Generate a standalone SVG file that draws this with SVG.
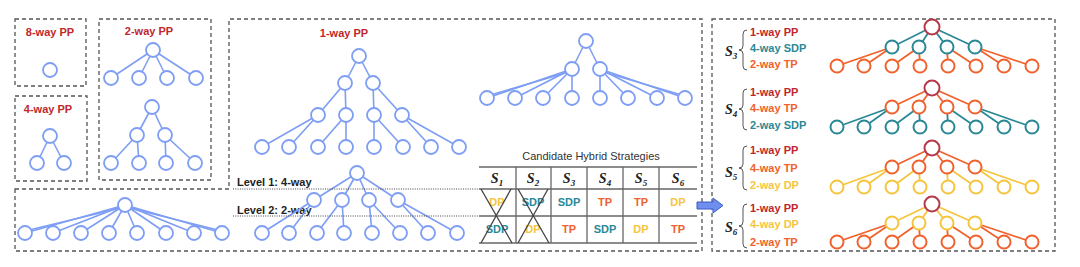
<svg xmlns="http://www.w3.org/2000/svg" width="1080" height="267" viewBox="0 0 1080 267">
<style>
.box{fill:none;stroke:#555;stroke-width:1.3;stroke-dasharray:4 3}
.bn{fill:#fff;stroke:#7e9ef4;stroke-width:1.8}
.be line{stroke:#7e9ef4;stroke-width:1.6}
.t{font-family:"Liberation Sans",Arial,sans-serif;font-weight:bold;font-size:11px}
.n{font-family:"Liberation Sans",Arial,sans-serif;font-size:11px;fill:#333}
.s{font-family:"Liberation Serif","Times New Roman",serif;font-weight:bold;font-style:italic;font-size:14px;fill:#222}
.pp{fill:#c0272d}.sdp{fill:#2a8896}.tp{fill:#f0622d}.dp{fill:#f5c53d}
.cr{fill:#fff;stroke:#b5394a;stroke-width:2}
.cs{fill:#fff;stroke:#2a8896;stroke-width:2}
.ct{fill:#fff;stroke:#f0622d;stroke-width:2}
.cd{fill:#fff;stroke:#f5c53d;stroke-width:2}
.es line{stroke:#2a8896;stroke-width:1.8}
.et line{stroke:#f0622d;stroke-width:1.8}
.ed line{stroke:#f5c53d;stroke-width:1.8}
.tl{stroke:#666;stroke-width:1.3}
.dot{stroke:#444;stroke-width:1;stroke-dasharray:1 1.3}
.br{fill:none;stroke:#555;stroke-width:1}
</style>

<g id="frames">
<rect class="box" x="15" y="19" width="71" height="67"/>
<rect class="box" x="15" y="96" width="72" height="85"/>
<rect class="box" x="99" y="19" width="112" height="161"/>
<path class="box" d="M15,189 H229 V19 H702 V251 H15 Z"/>
<rect class="box" x="712" y="19" width="343" height="232"/>
</g>

<g id="titles" class="t">
<text class="pp" x="50" y="36" text-anchor="middle">8-way PP</text>
<text class="pp" x="48" y="113" text-anchor="middle">4-way PP</text>
<text class="pp" x="149" y="35" text-anchor="middle">2-way PP</text>
<text class="pp" x="344" y="37" text-anchor="middle">1-way PP</text>
<text x="237" y="186" fill="#222">Level 1: 4-way</text>
<text x="237" y="214" fill="#222">Level 2: 2-way</text>
</g>

<g id="connectors">
<g class="be">
<line x1="50" y1="136" x2="37" y2="163"/><line x1="50" y1="136" x2="64" y2="163"/>
<line x1="153" y1="50" x2="111" y2="78"/><line x1="153" y1="50" x2="139" y2="78"/><line x1="153" y1="50" x2="167" y2="78"/><line x1="153" y1="50" x2="196" y2="78"/>
<line x1="152" y1="107" x2="137" y2="135"/><line x1="152" y1="107" x2="165" y2="135"/>
<line x1="137" y1="135" x2="111" y2="163"/><line x1="137" y1="135" x2="139" y2="163"/><line x1="165" y1="135" x2="166" y2="163"/><line x1="165" y1="135" x2="195" y2="163"/>
<line x1="125" y1="205" x2="25" y2="233"/><line x1="125" y1="207" x2="25" y2="231"/>
<line x1="125" y1="205" x2="53" y2="233"/><line x1="125" y1="205" x2="81" y2="233"/><line x1="125" y1="205" x2="109" y2="233"/><line x1="125" y1="205" x2="137" y2="233"/><line x1="125" y1="205" x2="166" y2="233"/><line x1="125" y1="205" x2="194" y2="233"/>
<line x1="125" y1="205" x2="222" y2="233"/><line x1="125" y1="207" x2="222" y2="231"/>
<line x1="359" y1="56" x2="345" y2="83"/><line x1="359" y1="56" x2="373" y2="83"/>
<line x1="345" y1="83" x2="318" y2="115"/><line x1="345" y1="83" x2="346" y2="115"/><line x1="373" y1="83" x2="374" y2="115"/><line x1="373" y1="83" x2="402" y2="115"/>
<line x1="318" y1="115" x2="262" y2="147"/><line x1="318" y1="115" x2="289" y2="147"/><line x1="346" y1="115" x2="318" y2="147"/><line x1="346" y1="115" x2="346" y2="147"/>
<line x1="374" y1="115" x2="374" y2="147"/><line x1="374" y1="115" x2="403" y2="147"/><line x1="402" y1="115" x2="431" y2="147"/><line x1="402" y1="115" x2="459" y2="147"/>
<line x1="586" y1="41" x2="572" y2="69"/><line x1="586" y1="41" x2="600" y2="69"/>
<line x1="572" y1="69" x2="487" y2="98"/><line x1="572" y1="71" x2="487" y2="96"/><line x1="572" y1="69" x2="515" y2="98"/><line x1="572" y1="69" x2="543" y2="98"/><line x1="572" y1="69" x2="572" y2="98"/>
<line x1="600" y1="69" x2="600" y2="98"/><line x1="600" y1="69" x2="628" y2="98"/><line x1="600" y1="69" x2="657" y2="98"/><line x1="600" y1="69" x2="685" y2="98"/><line x1="600" y1="71" x2="685" y2="96"/>
<line x1="357" y1="173" x2="314" y2="200"/><line x1="357" y1="173" x2="342" y2="200"/><line x1="357" y1="173" x2="369" y2="200"/><line x1="357" y1="173" x2="398" y2="200"/>
<line x1="314" y1="200" x2="262" y2="233"/><line x1="314" y1="200" x2="289" y2="233"/><line x1="342" y1="200" x2="317" y2="233"/><line x1="342" y1="200" x2="344" y2="233"/>
<line x1="369" y1="200" x2="372" y2="233"/><line x1="369" y1="200" x2="400" y2="233"/><line x1="398" y1="200" x2="428" y2="233"/><line x1="398" y1="200" x2="457" y2="233"/>
</g>
<g class="es"><line x1="932" y1="27" x2="892" y2="47"/><line x1="932" y1="27" x2="919" y2="47"/><line x1="932" y1="27" x2="947" y2="47"/><line x1="932" y1="27" x2="975" y2="47"/></g>
<g class="et"><line x1="892" y1="47" x2="837" y2="66"/><line x1="892" y1="47" x2="864" y2="66"/><line x1="919" y1="47" x2="892" y2="66"/><line x1="919" y1="47" x2="920" y2="66"/><line x1="947" y1="47" x2="948" y2="66"/><line x1="947" y1="47" x2="976" y2="66"/><line x1="975" y1="47" x2="1004" y2="66"/><line x1="975" y1="47" x2="1032" y2="66"/></g>
<g class="et"><line x1="932" y1="88" x2="892" y2="107"/><line x1="932" y1="88" x2="919" y2="107"/><line x1="932" y1="88" x2="947" y2="107"/><line x1="932" y1="88" x2="975" y2="107"/></g>
<g class="es"><line x1="892" y1="107" x2="837" y2="127"/><line x1="892" y1="107" x2="864" y2="127"/><line x1="919" y1="107" x2="892" y2="127"/><line x1="919" y1="107" x2="920" y2="127"/><line x1="947" y1="107" x2="948" y2="127"/><line x1="947" y1="107" x2="976" y2="127"/><line x1="975" y1="107" x2="1004" y2="127"/><line x1="975" y1="107" x2="1032" y2="127"/></g>
<g class="et"><line x1="932" y1="148" x2="892" y2="167"/><line x1="932" y1="148" x2="919" y2="167"/><line x1="932" y1="148" x2="947" y2="167"/><line x1="932" y1="148" x2="975" y2="167"/></g>
<g class="ed"><line x1="892" y1="167" x2="837" y2="187"/><line x1="892" y1="167" x2="864" y2="187"/><line x1="919" y1="167" x2="892" y2="187"/><line x1="919" y1="167" x2="920" y2="187"/><line x1="947" y1="167" x2="948" y2="187"/><line x1="947" y1="167" x2="976" y2="187"/><line x1="975" y1="167" x2="1004" y2="187"/><line x1="975" y1="167" x2="1032" y2="187"/></g>
<g class="ed"><line x1="932" y1="204" x2="892" y2="223"/><line x1="932" y1="204" x2="919" y2="223"/><line x1="932" y1="204" x2="947" y2="223"/><line x1="932" y1="204" x2="975" y2="223"/></g>
<g class="et"><line x1="892" y1="223" x2="837" y2="242"/><line x1="892" y1="223" x2="864" y2="242"/><line x1="919" y1="223" x2="892" y2="242"/><line x1="919" y1="223" x2="920" y2="242"/><line x1="947" y1="223" x2="948" y2="242"/><line x1="947" y1="223" x2="976" y2="242"/><line x1="975" y1="223" x2="1004" y2="242"/><line x1="975" y1="223" x2="1032" y2="242"/></g>
<line class="dot" x1="233" y1="189" x2="479" y2="189"/>
<line class="dot" x1="233" y1="216" x2="479" y2="216"/>
<polygon points="697,202 713,202 713,198 723,205.5 713,213 713,209 697,209" fill="#6f8ff0" stroke="#3b5bc4" stroke-width="1"/>
</g>

<g id="tree-8way"><circle class="bn" cx="50" cy="70" r="7"/></g>
<g id="tree-4way"><circle class="bn" cx="50" cy="136" r="7"/><circle class="bn" cx="37" cy="163" r="7"/><circle class="bn" cx="64" cy="163" r="7"/></g>
<g id="tree-2way-a"><circle class="bn" cx="153" cy="50" r="7"/><circle class="bn" cx="111" cy="78" r="7"/><circle class="bn" cx="139" cy="78" r="7"/><circle class="bn" cx="167" cy="78" r="7"/><circle class="bn" cx="196" cy="78" r="7"/></g>
<g id="tree-2way-b"><circle class="bn" cx="152" cy="107" r="7"/><circle class="bn" cx="137" cy="135" r="7"/><circle class="bn" cx="165" cy="135" r="7"/><circle class="bn" cx="111" cy="163" r="7"/><circle class="bn" cx="139" cy="163" r="7"/><circle class="bn" cx="166" cy="163" r="7"/><circle class="bn" cx="195" cy="163" r="7"/></g>
<g id="tree-flat"><circle class="bn" cx="125" cy="205" r="7"/><circle class="bn" cx="25" cy="233" r="7"/><circle class="bn" cx="53" cy="233" r="7"/><circle class="bn" cx="81" cy="233" r="7"/><circle class="bn" cx="109" cy="233" r="7"/><circle class="bn" cx="137" cy="233" r="7"/><circle class="bn" cx="166" cy="233" r="7"/><circle class="bn" cx="194" cy="233" r="7"/><circle class="bn" cx="222" cy="233" r="7"/></g>
<g id="tree-1way"><circle class="bn" cx="359" cy="56" r="7"/><circle class="bn" cx="345" cy="83" r="7"/><circle class="bn" cx="373" cy="83" r="7"/><circle class="bn" cx="318" cy="115" r="7"/><circle class="bn" cx="346" cy="115" r="7"/><circle class="bn" cx="374" cy="115" r="7"/><circle class="bn" cx="402" cy="115" r="7"/><circle class="bn" cx="262" cy="147" r="7"/><circle class="bn" cx="289" cy="147" r="7"/><circle class="bn" cx="318" cy="147" r="7"/><circle class="bn" cx="346" cy="147" r="7"/><circle class="bn" cx="374" cy="147" r="7"/><circle class="bn" cx="403" cy="147" r="7"/><circle class="bn" cx="431" cy="147" r="7"/><circle class="bn" cx="459" cy="147" r="7"/></g>
<g id="tree-2level"><circle class="bn" cx="586" cy="41" r="7"/><circle class="bn" cx="572" cy="69" r="7"/><circle class="bn" cx="600" cy="69" r="7"/><circle class="bn" cx="487" cy="98" r="7"/><circle class="bn" cx="515" cy="98" r="7"/><circle class="bn" cx="543" cy="98" r="7"/><circle class="bn" cx="572" cy="98" r="7"/><circle class="bn" cx="600" cy="98" r="7"/><circle class="bn" cx="628" cy="98" r="7"/><circle class="bn" cx="657" cy="98" r="7"/><circle class="bn" cx="685" cy="98" r="7"/></g>
<g id="tree-levels"><circle class="bn" cx="357" cy="173" r="7"/><circle class="bn" cx="314" cy="200" r="7"/><circle class="bn" cx="342" cy="200" r="7"/><circle class="bn" cx="369" cy="200" r="7"/><circle class="bn" cx="398" cy="200" r="7"/><circle class="bn" cx="262" cy="233" r="7"/><circle class="bn" cx="289" cy="233" r="7"/><circle class="bn" cx="317" cy="233" r="7"/><circle class="bn" cx="344" cy="233" r="7"/><circle class="bn" cx="372" cy="233" r="7"/><circle class="bn" cx="400" cy="233" r="7"/><circle class="bn" cx="428" cy="233" r="7"/><circle class="bn" cx="457" cy="233" r="7"/></g>

<g id="table">
<text class="n" x="591" y="160" text-anchor="middle">Candidate Hybrid Strategies</text>
<line class="tl" x1="479" y1="167" x2="697" y2="167"/>
<line class="tl" x1="479" y1="189" x2="697" y2="189"/>
<line class="tl" x1="479" y1="216" x2="697" y2="216"/>
<line class="tl" x1="479" y1="243" x2="697" y2="243"/>
<line class="tl" x1="516" y1="167" x2="516" y2="243"/>
<line class="tl" x1="551" y1="167" x2="551" y2="243"/>
<line class="tl" x1="587" y1="167" x2="587" y2="243"/>
<line class="tl" x1="623" y1="167" x2="623" y2="243"/>
<line class="tl" x1="659" y1="167" x2="659" y2="243"/>
<g class="s" text-anchor="middle">
<text x="497" y="183">S<tspan font-size="9" dy="3">1</tspan></text>
<text x="533" y="183">S<tspan font-size="9" dy="3">2</tspan></text>
<text x="569" y="183">S<tspan font-size="9" dy="3">3</tspan></text>
<text x="605" y="183">S<tspan font-size="9" dy="3">4</tspan></text>
<text x="641" y="183">S<tspan font-size="9" dy="3">5</tspan></text>
<text x="678" y="183">S<tspan font-size="9" dy="3">6</tspan></text>
</g>
<g class="t" text-anchor="middle">
<text class="dp" x="497" y="206">DP</text>
<text class="sdp" x="533" y="206">SDP</text>
<text class="sdp" x="569" y="206">SDP</text>
<text class="tp" x="605" y="206">TP</text>
<text class="tp" x="641" y="206">TP</text>
<text class="dp" x="678" y="206">DP</text>
<text class="sdp" x="497" y="233">SDP</text>
<text class="dp" x="533" y="233">DP</text>
<text class="tp" x="569" y="233">TP</text>
<text class="sdp" x="605" y="233">SDP</text>
<text class="dp" x="641" y="233">DP</text>
<text class="tp" x="678" y="233">TP</text>
</g>
<g stroke="#444" stroke-width="1.3">
<line x1="481" y1="189" x2="512" y2="243"/><line x1="511" y1="189" x2="481" y2="243"/>
<line x1="518" y1="189" x2="549" y2="243"/><line x1="548" y1="189" x2="518" y2="243"/>
</g>
</g>

<g id="legend-s3">
<text class="s" x="725" y="56">S<tspan font-size="9" dy="3">3</tspan></text>
<path class="br" d="M747,30 Q743,30 743,34 V46 Q743,50 739,50 Q743,50 743,54 V66 Q743,70 747,70"/>
<text class="t pp" x="750" y="36">1-way PP</text>
<text class="t sdp" x="750" y="52">4-way SDP</text>
<text class="t tp" x="750" y="68">2-way TP</text>
</g>
<g id="legend-s4">
<text class="s" x="725" y="114">S<tspan font-size="9" dy="3">4</tspan></text>
<path class="br" d="M747,89 Q743,89 743,93 V105 Q743,109 739,109 Q743,109 743,113 V126 Q743,130 747,130"/>
<text class="t pp" x="750" y="96">1-way PP</text>
<text class="t tp" x="750" y="112">4-way TP</text>
<text class="t sdp" x="750" y="129">2-way SDP</text>
</g>
<g id="legend-s5">
<text class="s" x="725" y="177">S<tspan font-size="9" dy="3">5</tspan></text>
<path class="br" d="M747,146 Q743,146 743,150 V164 Q743,168 739,168 Q743,168 743,172 V186 Q743,190 747,190"/>
<text class="t pp" x="750" y="154">1-way PP</text>
<text class="t tp" x="750" y="172">4-way TP</text>
<text class="t dp" x="750" y="189">2-way DP</text>
</g>
<g id="legend-s6">
<text class="s" x="725" y="232">S<tspan font-size="9" dy="3">6</tspan></text>
<path class="br" d="M747,204 Q743,204 743,208 V222 Q743,226 739,226 Q743,226 743,230 V244 Q743,248 747,248"/>
<text class="t pp" x="750" y="212">1-way PP</text>
<text class="t dp" x="750" y="228">4-way DP</text>
<text class="t tp" x="750" y="246">2-way TP</text>
</g>

<g id="tree-s3"><circle class="cr" cx="932" cy="27" r="7.5"/><circle class="cs" cx="892" cy="47" r="6.5"/><circle class="cs" cx="919" cy="47" r="6.5"/><circle class="cs" cx="947" cy="47" r="6.5"/><circle class="cs" cx="975" cy="47" r="6.5"/><circle class="ct" cx="837" cy="66" r="6.5"/><circle class="ct" cx="864" cy="66" r="6.5"/><circle class="ct" cx="892" cy="66" r="6.5"/><circle class="ct" cx="920" cy="66" r="6.5"/><circle class="ct" cx="948" cy="66" r="6.5"/><circle class="ct" cx="976" cy="66" r="6.5"/><circle class="ct" cx="1004" cy="66" r="6.5"/><circle class="ct" cx="1032" cy="66" r="6.5"/></g>
<g id="tree-s4"><circle class="cr" cx="932" cy="88" r="7.5"/><circle class="ct" cx="892" cy="107" r="6.5"/><circle class="ct" cx="919" cy="107" r="6.5"/><circle class="ct" cx="947" cy="107" r="6.5"/><circle class="ct" cx="975" cy="107" r="6.5"/><circle class="cs" cx="837" cy="127" r="6.5"/><circle class="cs" cx="864" cy="127" r="6.5"/><circle class="cs" cx="892" cy="127" r="6.5"/><circle class="cs" cx="920" cy="127" r="6.5"/><circle class="cs" cx="948" cy="127" r="6.5"/><circle class="cs" cx="976" cy="127" r="6.5"/><circle class="cs" cx="1004" cy="127" r="6.5"/><circle class="cs" cx="1032" cy="127" r="6.5"/></g>
<g id="tree-s5"><circle class="cr" cx="932" cy="148" r="7.5"/><circle class="ct" cx="892" cy="167" r="6.5"/><circle class="ct" cx="919" cy="167" r="6.5"/><circle class="ct" cx="947" cy="167" r="6.5"/><circle class="ct" cx="975" cy="167" r="6.5"/><circle class="cd" cx="837" cy="187" r="6.5"/><circle class="cd" cx="864" cy="187" r="6.5"/><circle class="cd" cx="892" cy="187" r="6.5"/><circle class="cd" cx="920" cy="187" r="6.5"/><circle class="cd" cx="948" cy="187" r="6.5"/><circle class="cd" cx="976" cy="187" r="6.5"/><circle class="cd" cx="1004" cy="187" r="6.5"/><circle class="cd" cx="1032" cy="187" r="6.5"/></g>
<g id="tree-s6"><circle class="cr" cx="932" cy="204" r="7.5"/><circle class="cd" cx="892" cy="223" r="6.5"/><circle class="cd" cx="919" cy="223" r="6.5"/><circle class="cd" cx="947" cy="223" r="6.5"/><circle class="cd" cx="975" cy="223" r="6.5"/><circle class="ct" cx="837" cy="242" r="6.5"/><circle class="ct" cx="864" cy="242" r="6.5"/><circle class="ct" cx="892" cy="242" r="6.5"/><circle class="ct" cx="920" cy="242" r="6.5"/><circle class="ct" cx="948" cy="242" r="6.5"/><circle class="ct" cx="976" cy="242" r="6.5"/><circle class="ct" cx="1004" cy="242" r="6.5"/><circle class="ct" cx="1032" cy="242" r="6.5"/></g>
</svg>
